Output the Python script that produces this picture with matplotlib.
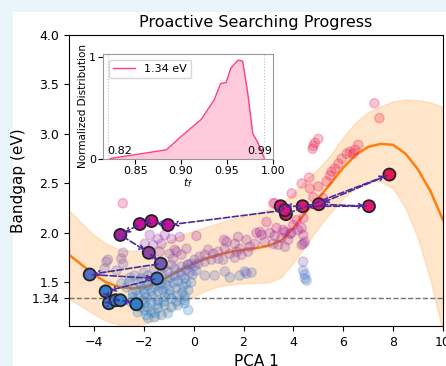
import numpy as np
import matplotlib
matplotlib.use('Agg')
import matplotlib.pyplot as plt
from matplotlib.colors import LinearSegmentedColormap, Normalize
from matplotlib.patches import Rectangle

# GP surrogate along PCA 1: mean and half-width of the confidence band
gp_x = [-5.0, -4.5, -4.0, -3.5, -3.0, -2.5, -2.0, -1.5, -1.0, -0.5, 0.0,
        0.5, 1.0, 1.5, 2.0, 2.5, 3.0, 3.5, 4.0, 4.5, 5.0,
        5.5, 6.0, 6.5, 7.0, 7.5, 8.0, 8.5, 9.0, 9.5, 10.0]
gp_mean = [1.78, 1.68, 1.58, 1.50, 1.455, 1.44, 1.45, 1.49, 1.56, 1.63, 1.69,
           1.74, 1.78, 1.81, 1.83, 1.845, 1.87, 1.92, 2.05, 2.21, 2.35,
           2.50, 2.66, 2.79, 2.87, 2.90, 2.89, 2.80, 2.64, 2.42, 2.13]
gp_band = [0.45, 0.42, 0.40, 0.39, 0.38, 0.38, 0.37, 0.37, 0.36, 0.35, 0.33,
           0.32, 0.32, 0.33, 0.34, 0.35, 0.37, 0.37, 0.35, 0.33, 0.30,
           0.29, 0.31, 0.33, 0.35, 0.38, 0.44, 0.55, 0.70, 0.90, 1.14]

# explored candidates (PCA 1, bandgap)
cloud_x = [-2.37, -2.10, -1.83, -1.29, -1.03, -0.76, -0.49, -0.22, -0.76, -0.49,
           -0.63, -0.36, -1.03, -1.29, -1.56, -1.83, -2.10, -2.30, -2.43, -2.23,
           -1.96, -1.70, -1.43, -1.23, -0.96, -0.69, -0.42, -0.22, -0.36, -0.63,
           -0.89, -1.16, -1.43, -1.70, -1.96, -2.16, -1.96, -1.70, -1.43, -1.16,
           -0.89, -0.63, -0.36, -0.22, -1.29, -1.56, -1.03, -1.83, -2.60, -2.00,
           -1.60, -1.20, -0.90, -0.10, -0.36, 0.10, -2.50, -2.70,
           -2.55, -2.45, -2.20, -2.00, -1.90, -1.75, -1.60, -1.50, -1.35, -1.10,
           -0.95, -0.80, -0.55, -0.30, -0.15, -2.30, -2.05, -1.85, -1.65, -1.45,
           -1.20, -1.00, -0.70, -0.45, -0.05, -1.55, -1.90, -2.25, -0.30, 0.05,
           -3.44, -2.90, -2.83, -3.10, -3.57, -2.90, -3.50, -2.83, -0.76, -0.49,
           -0.83, -0.29, -1.76, -1.43, -1.16, -0.89, -1.96, -1.63, -1.29, -0.56,
           -0.69, -0.96, -1.36, -2.84,
           0.11, 1.22, 1.65, 2.12, 2.52, 2.72, 3.05, 3.25, 3.52, 3.79,
           3.92, 4.19, 4.39, 4.46, 4.33, 3.66, 3.39, 3.19, 2.85, 2.45,
           2.25, 1.85, 1.72, 1.45, 1.25, 0.98, 0.78, 0.58, 0.44, 0.24,
           0.04, -0.09, -0.23, 0.18, 0.44, 0.71, 0.98, 1.18, 1.65, 1.92,
           2.18, 0.84, 1.45, 1.85, 2.12, 2.32, 2.92, 3.32, 3.66, 3.86,
           2.66, 1.78, 1.32, 0.45, 1.25, 2.05,
           4.39, 4.39, 4.46, 4.53, 4.46,
           7.25, 7.45, 5.00, 4.86, 4.80, 4.77, 6.60, 6.47, 6.27, 6.14,
           5.94, 5.80, 5.67, 5.53, 5.47, 4.63, 5.00, 3.93, 4.80, 5.20,
           3.19, 4.66, 3.59, 3.99, 4.13, 4.40, 4.33, 4.40, 3.26, 4.33,
           6.40, 5.33]
cloud_y = [1.57, 1.54, 1.57, 1.59, 1.61, 1.64, 1.66, 1.68, 1.57, 1.57,
           1.51, 1.54, 1.52, 1.49, 1.51, 1.47, 1.46, 1.42, 1.39, 1.36,
           1.39, 1.41, 1.41, 1.42, 1.42, 1.44, 1.46, 1.42, 1.36, 1.37,
           1.34, 1.36, 1.32, 1.30, 1.29, 1.25, 1.22, 1.20, 1.24, 1.27,
           1.25, 1.27, 1.29, 1.22, 1.17, 1.15, 1.19, 1.14, 1.50, 1.60,
           1.63, 1.65, 1.68, 1.50, 1.32, 1.62, 1.30, 1.45,
           1.55, 1.35, 1.50, 1.43, 1.35, 1.52, 1.45, 1.56, 1.46, 1.47,
           1.55, 1.50, 1.60, 1.49, 1.60, 1.28, 1.32, 1.25, 1.36, 1.28,
           1.31, 1.38, 1.31, 1.40, 1.58, 1.19, 1.17, 1.20, 1.63, 1.67,
           1.73, 1.74, 1.69, 1.62, 1.64, 1.49, 1.71, 1.80, 1.83, 1.78,
           1.74, 1.84, 1.98, 1.94, 1.98, 1.94, 1.89, 1.88, 1.89, 1.96,
           1.81, 1.79, 1.81, 2.30,
           1.97, 1.93, 1.89, 1.93, 2.00, 1.98, 2.00, 1.97, 1.95, 1.93,
           2.00, 2.03, 1.98, 1.91, 1.88, 1.86, 1.88, 1.89, 1.91, 1.89,
           1.86, 1.84, 1.81, 1.79, 1.84, 1.81, 1.79, 1.83, 1.78, 1.76,
           1.73, 1.69, 1.68, 1.69, 1.71, 1.73, 1.74, 1.73, 1.75, 1.78,
           1.81, 1.57, 1.55, 1.57, 1.59, 1.60, 2.11, 2.05, 2.01, 1.99,
           2.01, 1.96, 1.91, 1.57, 1.61, 1.61,
           1.71, 1.62, 1.58, 1.52, 1.54,
           3.31, 3.16, 2.95, 2.91, 2.88, 2.85, 2.89, 2.84, 2.82, 2.80,
           2.75, 2.70, 2.65, 2.62, 2.58, 2.56, 2.47, 2.40, 2.36, 2.35,
           2.30, 2.45, 2.03, 2.08, 2.13, 2.15, 2.05, 1.89, 2.30, 2.50,
           2.80, 2.52]

# proactive search trajectory, in visiting order
path_x = [3.70, 7.85, 5.02, 7.03, 4.37, 3.49, 3.66, -1.03, -1.69, -2.16,
          -2.94, -1.80, -1.32, -4.17, -1.47, -3.53, -3.40, -3.13, -2.94, -2.30]
path_y = [2.19, 2.59, 2.29, 2.27, 2.27, 2.27, 2.23, 2.08, 2.12, 2.09,
          1.98, 1.80, 1.69, 1.58, 1.54, 1.41, 1.29, 1.32, 1.32, 1.28]

target_gap = 1.34

# tolerance-factor distribution for the 1.34 eV target
tf_x = [0.823, 0.884, 0.900, 0.922, 0.936, 0.943, 0.949, 0.954, 0.962, 0.967,
        0.972, 0.978, 0.983, 0.991]
tf_y = [0.005, 0.09, 0.22, 0.39, 0.58, 0.74, 0.75, 0.89, 0.97, 0.96,
        0.68, 0.25, 0.17, 0.0]
tf_low, tf_high = 0.82, 0.99

cmap = LinearSegmentedColormap.from_list('gap', [
    (0.0, '#2a7fc9'), (0.2, '#3a7ac9'), (0.28, '#5f66c4'), (0.37, '#8a4ea6'),
    (0.53, '#a0229f'), (0.59, '#c0109a'), (0.67, '#e0147a'), (1.0, '#e8194a')])
norm = Normalize(vmin=1.2, vmax=2.7)

fig = plt.figure(figsize=(4.46, 3.66), dpi=100)
fig.patch.set_facecolor('#e9f5fb')
fig.patches.append(Rectangle((13 / 446, 0), 1 - 13 / 446, 1 - 12 / 366,
                             transform=fig.transFigure, facecolor='white',
                             edgecolor='none', zorder=-10))

ax = fig.add_axes([0.1547, 0.1093, 0.8386, 0.7951])
gx = np.array(gp_x)
gm = np.array(gp_mean)
gb = np.array(gp_band)
ax.fill_between(gx, gm - gb, gm + gb, color='#ffa94d', alpha=0.3, lw=1,
                edgecolor='#ffb060', zorder=1)
ax.plot(gx, gm, color='#ff7f0e', lw=1.8, zorder=2)

ax.scatter(cloud_x, cloud_y, c=cloud_y, cmap=cmap, norm=norm, s=45,
           alpha=0.25, zorder=2)
ax.axhline(target_gap, color='0.45', ls='--', lw=1, zorder=1)

ax.scatter(path_x, path_y, c=path_y, cmap=cmap, norm=norm, s=75,
           edgecolors='#222222', linewidths=1.3, zorder=3)
for i in range(len(path_x) - 1):
    ax.annotate('', xy=(path_x[i + 1], path_y[i + 1]),
                xytext=(path_x[i], path_y[i]),
                arrowprops=dict(arrowstyle='->', color='#4b2a99', ls='--',
                                lw=1.2, shrinkA=2, shrinkB=3,
                                mutation_scale=8),
                zorder=4)

ax.set_xlim(-5, 10)
ax.set_ylim(1.06, 4.0)
ax.set_xticks([-4, -2, 0, 2, 4, 6, 8, 10])
ax.set_yticks([1.34, 1.5, 2.0, 2.5, 3.0, 3.5, 4.0])
ax.set_yticklabels(['1.34', '1.5', '2.0', '2.5', '3.0', '3.5', '4.0'])
ax.tick_params(labelsize=9)
ax.set_xlabel('PCA 1', fontsize=11)
ax.set_ylabel('Bandgap (eV)', fontsize=11)
ax.set_title('Proactive Searching Progress', fontsize=11.5)

# inset: distribution of the tolerance factor
ins = fig.add_axes([0.2309, 0.5656, 0.3812, 0.2869])
ins.fill_between(tf_x, tf_y, color='#ff9fbf', alpha=0.55, lw=0)
ins.plot(tf_x, tf_y, color='#ff3d85', lw=1, label='1.34 eV')
ins.axvline(tf_low, color='0.75', ls=':', lw=0.8)
ins.axvline(tf_high, color='0.75', ls=':', lw=0.8)
ins.text(tf_low, 0.03, '0.82', fontsize=8, ha='left', va='bottom')
ins.text(0.972, 0.03, '0.99', fontsize=8, ha='left', va='bottom')
ins.set_xlim(0.815, 1.0)
ins.set_ylim(0, 1.03)
ins.set_xticks([0.85, 0.90, 0.95, 1.00])
ins.set_xticklabels(['0.85', '0.90', '0.95', '1.00'])
ins.set_yticks([0, 1])
ins.tick_params(labelsize=8, pad=1.5)
for s in ins.spines.values():
    s.set_color('0.6')
ins.set_xlabel('$t_f$', fontsize=8, labelpad=0)
ins.set_ylabel('Normalized Distribution', fontsize=7.5, labelpad=1)
ins.legend(loc='upper left', fontsize=8)

fig.savefig('out.png', dpi=100, facecolor=fig.get_facecolor())
